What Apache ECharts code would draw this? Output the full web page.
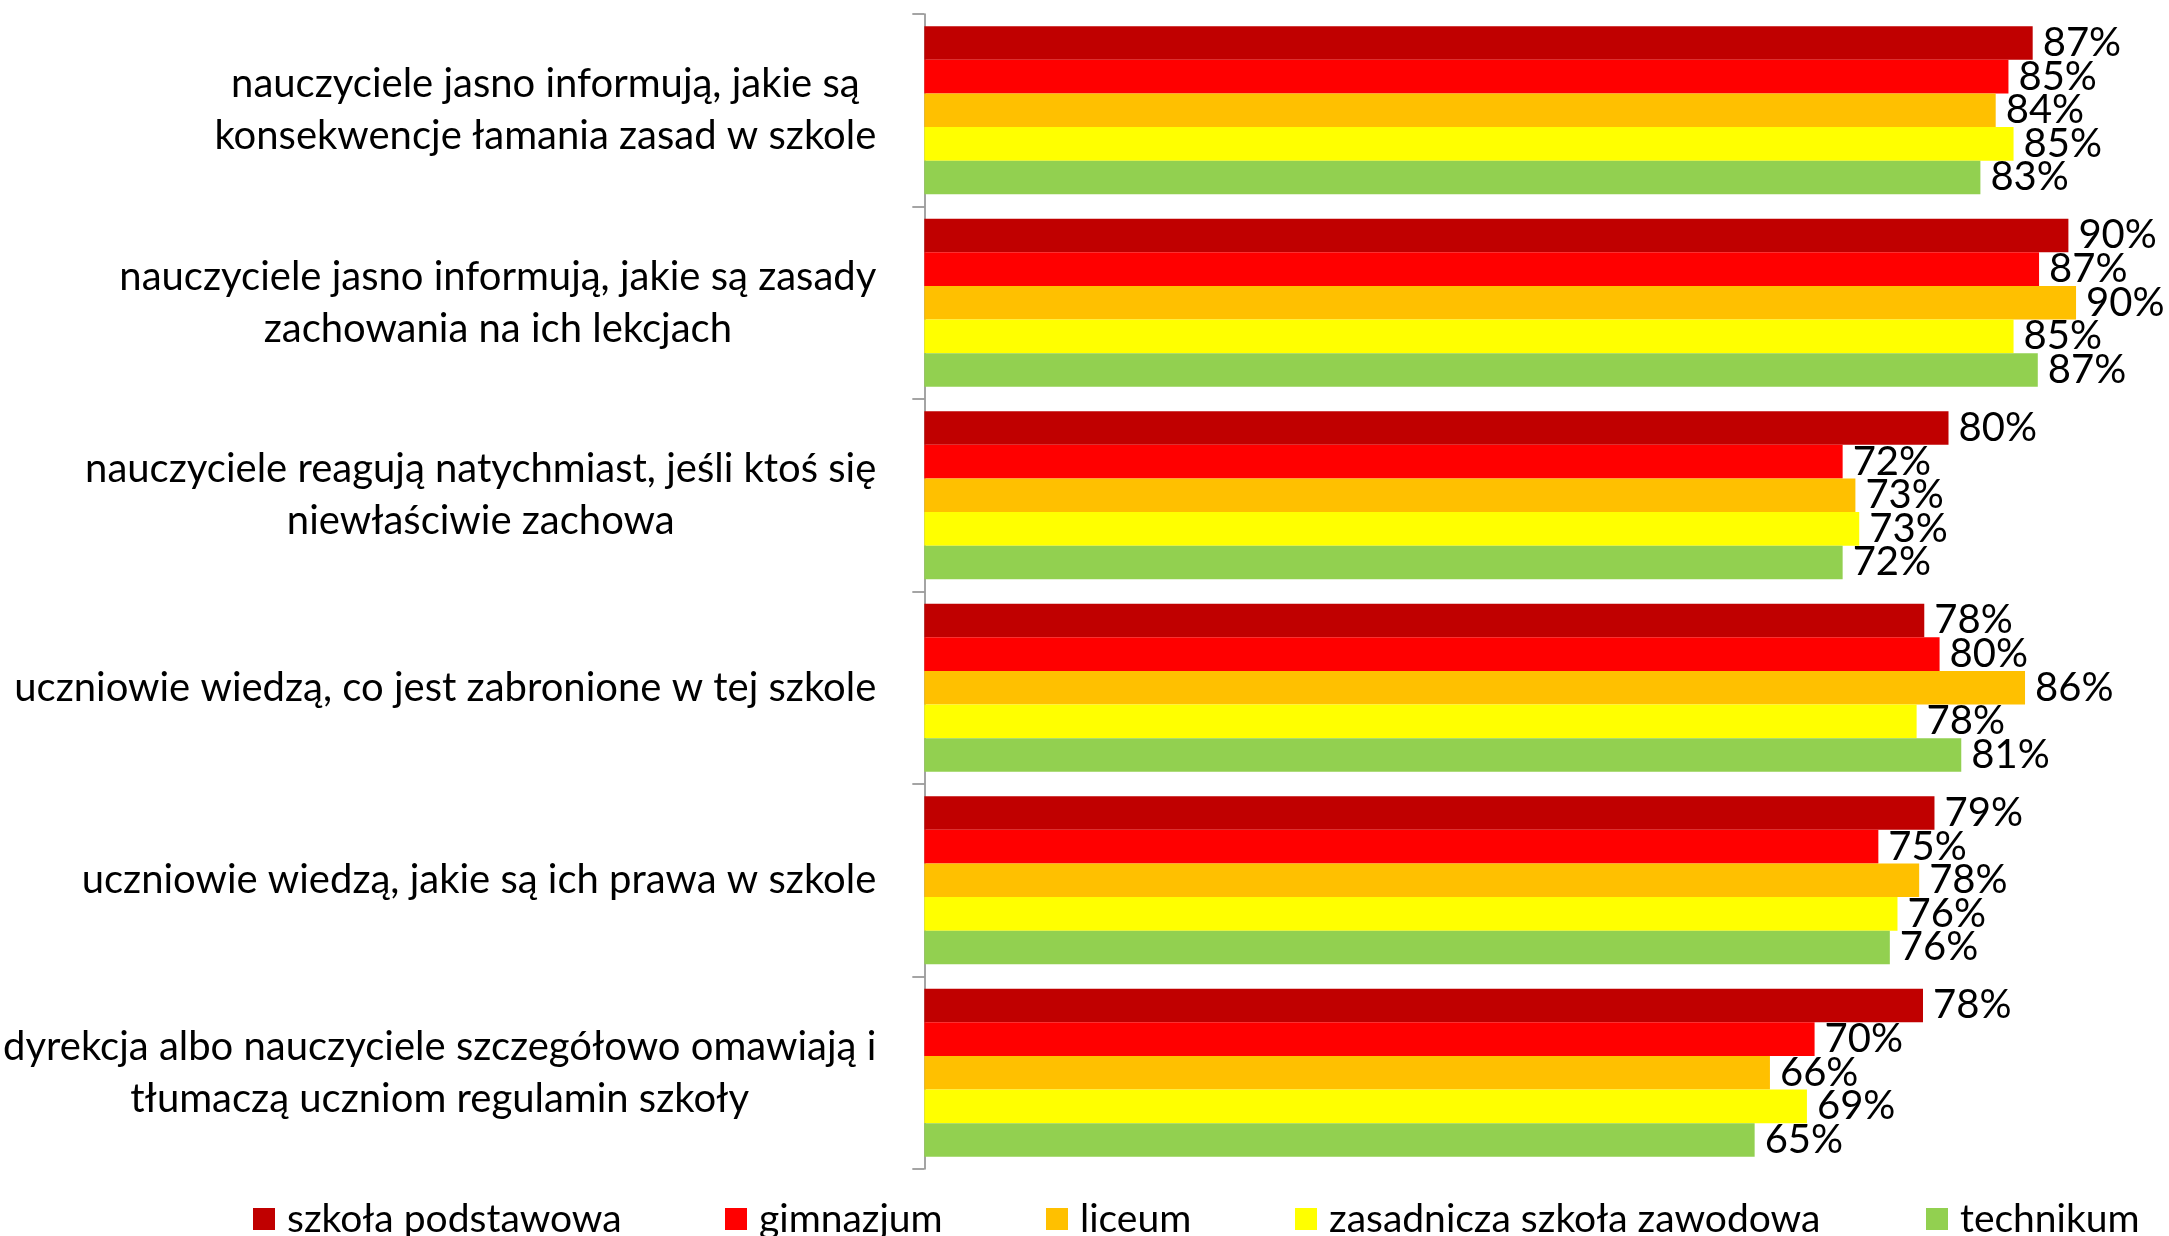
<!DOCTYPE html>
<html>
<head>
<meta charset="utf-8">
<script src="https://cdn.jsdelivr.net/npm/echarts@6/dist/echarts.min.js"></script>
<style>
  html, body { margin: 0; padding: 0; background: #fff; }
  #chart { width: 2169px; height: 1236px; }
</style>
</head>
<body>
<div id="chart"></div>
<script>
// kategorie (osie Y, od góry)
const categories = [
  'nauczyciele jasno informują, jakie są\nkonsekwencje łamania zasad w szkole',
  'nauczyciele jasno informują, jakie są zasady\nzachowania na ich lekcjach',
  'nauczyciele reagują natychmiast, jeśli ktoś się\nniewłaściwie zachowa',
  'uczniowie wiedzą, co jest zabronione w tej szkole',
  'uczniowie wiedzą, jakie są ich prawa w szkole',
  'dyrekcja albo nauczyciele szczegółowo omawiają i\ntłumaczą uczniom regulamin szkoły'
];

// typy szkół (legenda)
const schoolTypes = ['szkoła podstawowa', 'gimnazjum', 'liceum', 'zasadnicza szkoła zawodowa', 'technikum'];

const szkolaPodstawowa = [86.9, 89.7, 80.3, 78.4, 79.2, 78.3];
const gimnazjum = [85.0, 87.4, 72.0, 79.6, 74.8, 69.8];
const liceum = [84.0, 90.3, 73.0, 86.3, 78.0, 66.3];
const zasadnicza = [85.4, 85.4, 73.3, 77.8, 76.3, 69.2];
const technikum = [82.8, 87.3, 72.0, 81.3, 75.7, 65.1];

const seriesValues = [szkolaPodstawowa, gimnazjum, liceum, zasadnicza, technikum];
const colors = ['#C00000', '#FF0000', '#FFC000', '#FFFF00', '#92D050'];

// szerokości tekstów legendy (żeby pozycje pasowały)
const legendTextWidths = [438, 287, 215, 597, 180];

const FONT = 'Lato';
const FS = 40;

const chart = echarts.init(document.getElementById('chart'));

chart.setOption({
  animation: false,
  backgroundColor: '#fff',
  textStyle: { fontFamily: FONT },
  grid: {
    left: 912,
    top: 14,
    height: 1155,
    width: 1224
  },
  legend: {
    left: 248,
    top: 1192,
    itemGap: 0,
    icon: 'rect',
    itemWidth: 22,
    itemHeight: 22,
    textStyle: {
      fontFamily: FONT,
      fontSize: 39,
      color: '#000',
      lineHeight: 44,
      padding: [0, 0, 0, 7]
    },
    data: schoolTypes.map((name, i) => ({
      name: name,
      textStyle: { width: legendTextWidths[i] }
    }))
  },
  xAxis: {
    type: 'value',
    min: 0,
    max: 95,
    show: false
  },
  yAxis: {
    type: 'category',
    inverse: true,
    data: categories,
    axisLine: { show: true, lineStyle: { color: '#868686', width: 1.5 } },
    axisTick: { show: true, length: 12, lineStyle: { color: '#868686', width: 1.5 } },
    axisLabel: {
      margin: 48,
      align: 'right',
      formatter: function (v) {
        return v.split('\n').map(s => '{c|' + s + '}').join('\n');
      },
      rich: {
        c: {
          align: 'center',
          fontFamily: FONT,
          fontSize: FS,
          lineHeight: 52,
          color: '#000'
        }
      }
    },
    splitLine: { show: false }
  },
  series: seriesValues.map((vals, i) => ({
    name: schoolTypes[i],
    type: 'bar',
    data: vals,
    barGap: '0%',
    barCategoryGap: '12.7%',
    itemStyle: { color: colors[i] },
    label: {
      show: true,
      position: 'right',
      distance: 10,
      fontFamily: FONT,
      fontSize: FS,
      color: '#000',
      formatter: p => Math.round(p.value) + '%'
    }
  }))
});
</script>
</body>
</html>
